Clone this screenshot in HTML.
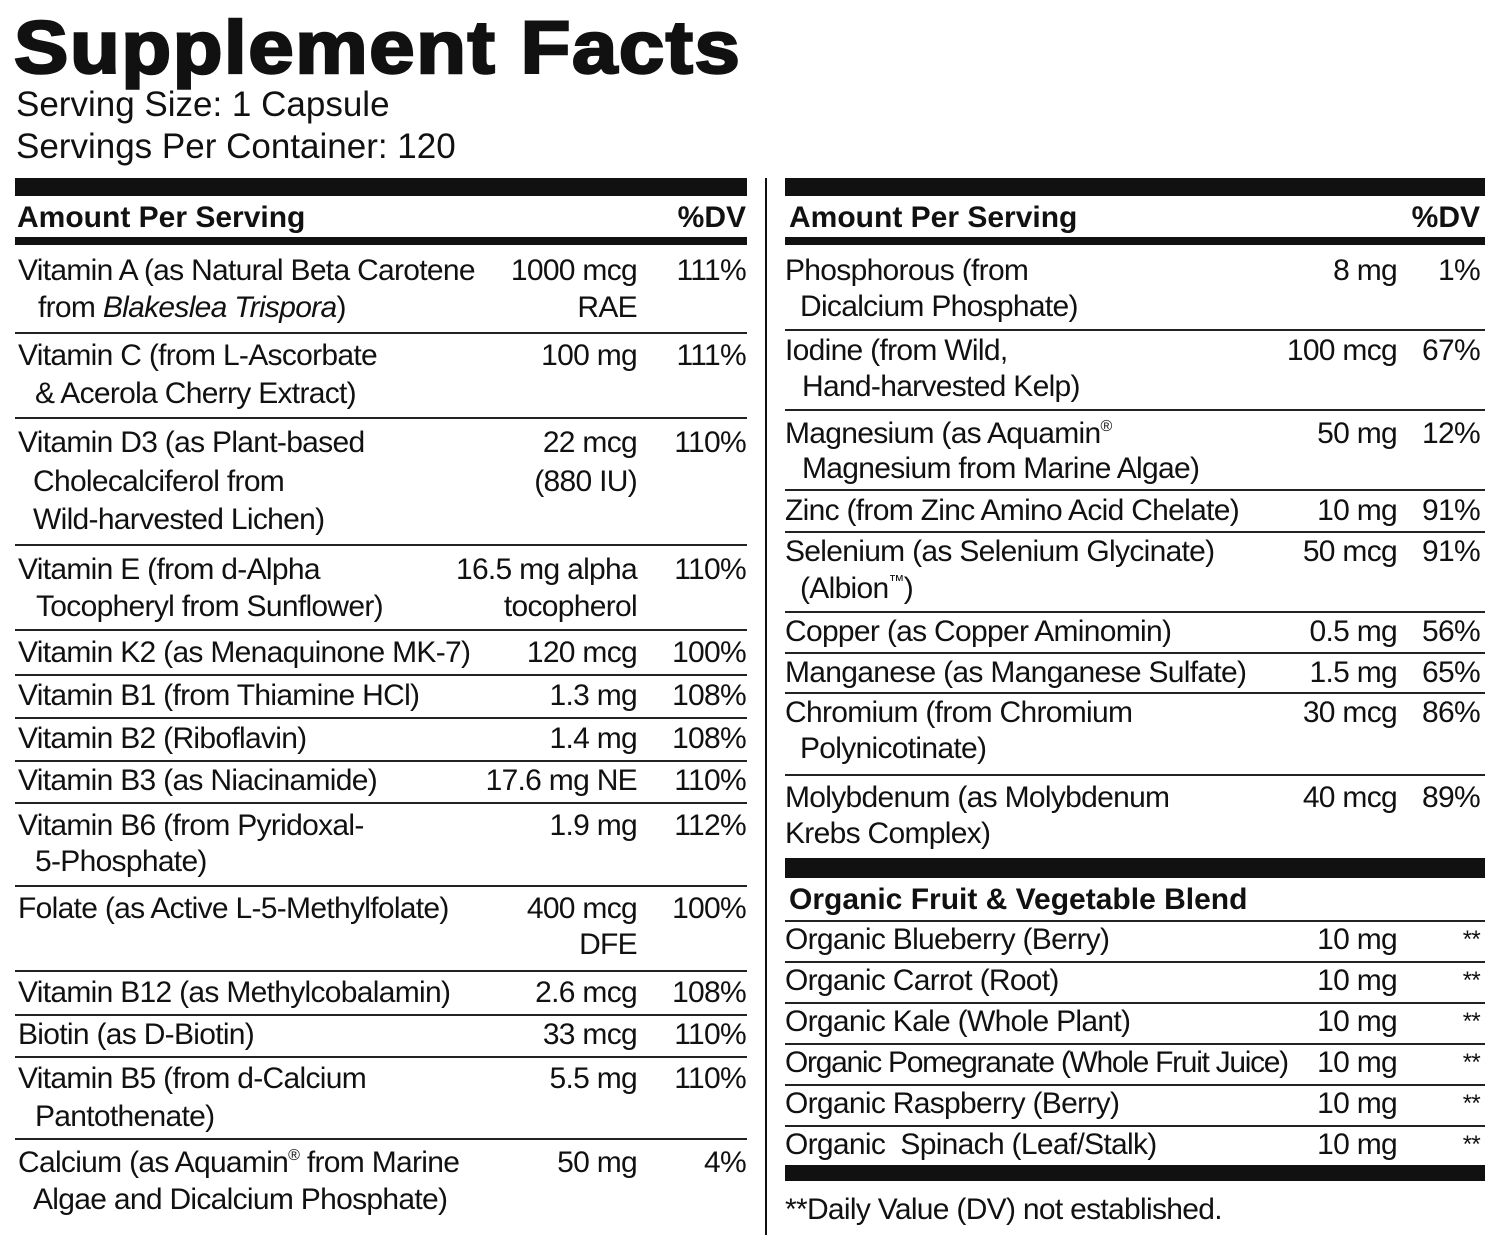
<!DOCTYPE html>
<html><head><meta charset="utf-8"><style>
body{margin:0;width:1500px;height:1238px;background:#fff;position:relative;overflow:hidden;font-family:"Liberation Sans",Arial,sans-serif;color:#111}
div{position:absolute;white-space:nowrap}
.t{font-size:30px;line-height:34px;letter-spacing:-0.7px}
.h{font-size:30px;line-height:34px;font-weight:bold;letter-spacing:0}
.bar{background:#111}
.ln{background:#222;height:2px}
.L{left:15px;width:732px}
.R{left:785px;width:700px}
.aL{right:863px}.dL{right:754px}
.aR{right:103px}.dR{right:20px}
sup{font-size:16px;line-height:0;vertical-align:0;position:relative;top:-12px}
.st{font-size:24px}
</style></head><body>
<div style="left:14px;top:8px;font-size:74px;line-height:80px;font-weight:bold;-webkit-text-stroke:2.5px #111;letter-spacing:1.5px;transform:scaleX(1.1);transform-origin:0 0">Supplement Facts</div>
<div style="left:16px;top:86px;font-size:35px;line-height:38px">Serving Size: 1 Capsule</div>
<div style="left:16px;top:128px;font-size:35px;line-height:38px">Servings Per Container: 120</div>

<div class="bar L" style="top:178px;height:18px"></div>
<div class="bar R" style="top:178px;height:18px"></div>
<div class="bar" style="left:765px;top:178px;width:2px;height:1057px"></div>
<div class="h" style="left:17px;top:201px">Amount Per Serving</div>
<div class="h dL" style="top:201px">%DV</div>
<div class="h" style="left:789px;top:201px">Amount Per Serving</div>
<div class="h dR" style="top:201px">%DV</div>
<div class="bar L" style="top:237px;height:8px"></div>
<div class="bar R" style="top:237px;height:8px"></div>

<div class="ln L" style="top:332px"></div><div class="ln L" style="top:417px"></div><div class="ln L" style="top:544px"></div><div class="ln L" style="top:629px"></div><div class="ln L" style="top:674px"></div><div class="ln L" style="top:717px"></div><div class="ln L" style="top:760px"></div><div class="ln L" style="top:802px"></div><div class="ln L" style="top:885px"></div><div class="ln L" style="top:970px"></div><div class="ln L" style="top:1014px"></div><div class="ln L" style="top:1056px"></div><div class="ln L" style="top:1138px"></div>

<div class="t" style="left:18px;top:254px">Vitamin A (as Natural Beta Carotene</div>
<div class="t" style="left:38px;top:291px">from <i>Blakeslea Trispora</i>)</div>
<div class="t aL" style="top:254px">1000 mcg</div><div class="t aL" style="top:291px">RAE</div><div class="t dL" style="top:254px">111%</div>

<div class="t" style="left:18px;top:339px">Vitamin C (from L-Ascorbate</div>
<div class="t" style="left:35px;top:377px">&amp; Acerola Cherry Extract)</div>
<div class="t aL" style="top:339px">100 mg</div><div class="t dL" style="top:339px">111%</div>

<div class="t" style="left:18px;top:426px">Vitamin D3 (as Plant-based</div>
<div class="t" style="left:33px;top:465px">Cholecalciferol from</div>
<div class="t" style="left:33px;top:503px">Wild-harvested Lichen)</div>
<div class="t aL" style="top:426px">22 mcg</div><div class="t aL" style="top:465px">(880 IU)</div><div class="t dL" style="top:426px">110%</div>

<div class="t" style="left:18px;top:553px">Vitamin E (from d-Alpha</div>
<div class="t" style="left:36px;top:590px">Tocopheryl from Sunflower)</div>
<div class="t aL" style="top:553px">16.5 mg alpha</div><div class="t aL" style="top:590px">tocopherol</div><div class="t dL" style="top:553px">110%</div>

<div class="t" style="left:18px;top:636px">Vitamin K2 (as Menaquinone MK-7)</div><div class="t aL" style="top:636px">120 mcg</div><div class="t dL" style="top:636px">100%</div>
<div class="t" style="left:18px;top:679px">Vitamin B1 (from Thiamine HCl)</div><div class="t aL" style="top:679px">1.3 mg</div><div class="t dL" style="top:679px">108%</div>
<div class="t" style="left:18px;top:722px">Vitamin B2 (Riboflavin)</div><div class="t aL" style="top:722px">1.4 mg</div><div class="t dL" style="top:722px">108%</div>
<div class="t" style="left:18px;top:764px">Vitamin B3 (as Niacinamide)</div><div class="t aL" style="top:764px">17.6 mg NE</div><div class="t dL" style="top:764px">110%</div>

<div class="t" style="left:18px;top:809px">Vitamin B6 (from Pyridoxal-</div>
<div class="t" style="left:35px;top:845px">5-Phosphate)</div>
<div class="t aL" style="top:809px">1.9 mg</div><div class="t dL" style="top:809px">112%</div>

<div class="t" style="left:18px;top:892px">Folate (as Active L-5-Methylfolate)</div>
<div class="t aL" style="top:892px">400 mcg</div><div class="t aL" style="top:928px">DFE</div><div class="t dL" style="top:892px">100%</div>

<div class="t" style="left:18px;top:976px">Vitamin B12 (as Methylcobalamin)</div><div class="t aL" style="top:976px">2.6 mcg</div><div class="t dL" style="top:976px">108%</div>
<div class="t" style="left:18px;top:1018px">Biotin (as D-Biotin)</div><div class="t aL" style="top:1018px">33 mcg</div><div class="t dL" style="top:1018px">110%</div>

<div class="t" style="left:18px;top:1062px">Vitamin B5 (from d-Calcium</div>
<div class="t" style="left:35px;top:1100px">Pantothenate)</div>
<div class="t aL" style="top:1062px">5.5 mg</div><div class="t dL" style="top:1062px">110%</div>

<div class="t" style="left:18px;top:1146px">Calcium (as Aquamin<sup>®</sup> from Marine</div>
<div class="t" style="left:33px;top:1183px">Algae and Dicalcium Phosphate)</div>
<div class="t aL" style="top:1146px">50 mg</div><div class="t dL" style="top:1146px">4%</div>

<div class="ln R" style="top:329px"></div><div class="ln R" style="top:409px"></div><div class="ln R" style="top:489px"></div><div class="ln R" style="top:531px"></div><div class="ln R" style="top:611px"></div><div class="ln R" style="top:652px"></div><div class="ln R" style="top:692px"></div><div class="ln R" style="top:774px"></div>
<div class="bar R" style="top:858px;height:20px"></div>
<div class="ln R" style="top:920px"></div><div class="ln R" style="top:961px"></div><div class="ln R" style="top:1002px"></div><div class="ln R" style="top:1043px"></div><div class="ln R" style="top:1084px"></div><div class="ln R" style="top:1125px"></div>
<div class="bar R" style="top:1165px;height:16px"></div>

<div class="t" style="left:785px;top:254px">Phosphorous (from</div>
<div class="t" style="left:800px;top:290px">Dicalcium Phosphate)</div>
<div class="t aR" style="top:254px">8 mg</div><div class="t dR" style="top:254px">1%</div>

<div class="t" style="left:785px;top:334px">Iodine (from Wild,</div>
<div class="t" style="left:802px;top:370px">Hand-harvested Kelp)</div>
<div class="t aR" style="top:334px">100 mcg</div><div class="t dR" style="top:334px">67%</div>

<div class="t" style="left:785px;top:417px">Magnesium (as Aquamin<sup>®</sup></div>
<div class="t" style="left:802px;top:452px">Magnesium from Marine Algae)</div>
<div class="t aR" style="top:417px">50 mg</div><div class="t dR" style="top:417px">12%</div>

<div class="t" style="left:785px;top:494px">Zinc (from Zinc Amino Acid Chelate)</div><div class="t aR" style="top:494px">10 mg</div><div class="t dR" style="top:494px">91%</div>

<div class="t" style="left:785px;top:535px">Selenium (as Selenium Glycinate)</div>
<div class="t" style="left:800px;top:572px">(Albion<sup>™</sup>)</div>
<div class="t aR" style="top:535px">50 mcg</div><div class="t dR" style="top:535px">91%</div>

<div class="t" style="left:785px;top:615px">Copper (as Copper Aminomin)</div><div class="t aR" style="top:615px">0.5 mg</div><div class="t dR" style="top:615px">56%</div>
<div class="t" style="left:785px;top:656px">Manganese (as Manganese Sulfate)</div><div class="t aR" style="top:656px">1.5 mg</div><div class="t dR" style="top:656px">65%</div>

<div class="t" style="left:785px;top:696px">Chromium (from Chromium</div>
<div class="t" style="left:800px;top:732px">Polynicotinate)</div>
<div class="t aR" style="top:696px">30 mcg</div><div class="t dR" style="top:696px">86%</div>

<div class="t" style="left:785px;top:781px">Molybdenum (as Molybdenum</div>
<div class="t" style="left:785px;top:817px">Krebs Complex)</div>
<div class="t aR" style="top:781px">40 mcg</div><div class="t dR" style="top:781px">89%</div>

<div class="h" style="left:789px;top:883px">Organic Fruit &amp; Vegetable Blend</div>

<div class="t" style="left:785px;top:923px">Organic Blueberry (Berry)</div><div class="t aR" style="top:923px">10 mg</div><div class="t dR st" style="top:923px">**</div>
<div class="t" style="left:785px;top:964px">Organic Carrot (Root)</div><div class="t aR" style="top:964px">10 mg</div><div class="t dR st" style="top:964px">**</div>
<div class="t" style="left:785px;top:1005px">Organic Kale (Whole Plant)</div><div class="t aR" style="top:1005px">10 mg</div><div class="t dR st" style="top:1005px">**</div>
<div class="t" style="left:785px;top:1046px;letter-spacing:-1.3px">Organic Pomegranate (Whole Fruit Juice)</div><div class="t aR" style="top:1046px">10 mg</div><div class="t dR st" style="top:1046px">**</div>
<div class="t" style="left:785px;top:1087px">Organic Raspberry (Berry)</div><div class="t aR" style="top:1087px">10 mg</div><div class="t dR st" style="top:1087px">**</div>
<div class="t" style="left:785px;top:1128px">Organic&nbsp; Spinach (Leaf/Stalk)</div><div class="t aR" style="top:1128px">10 mg</div><div class="t dR st" style="top:1128px">**</div>

<div class="t" style="left:785px;top:1193px">**Daily Value (DV) not established.</div>
</body></html>
